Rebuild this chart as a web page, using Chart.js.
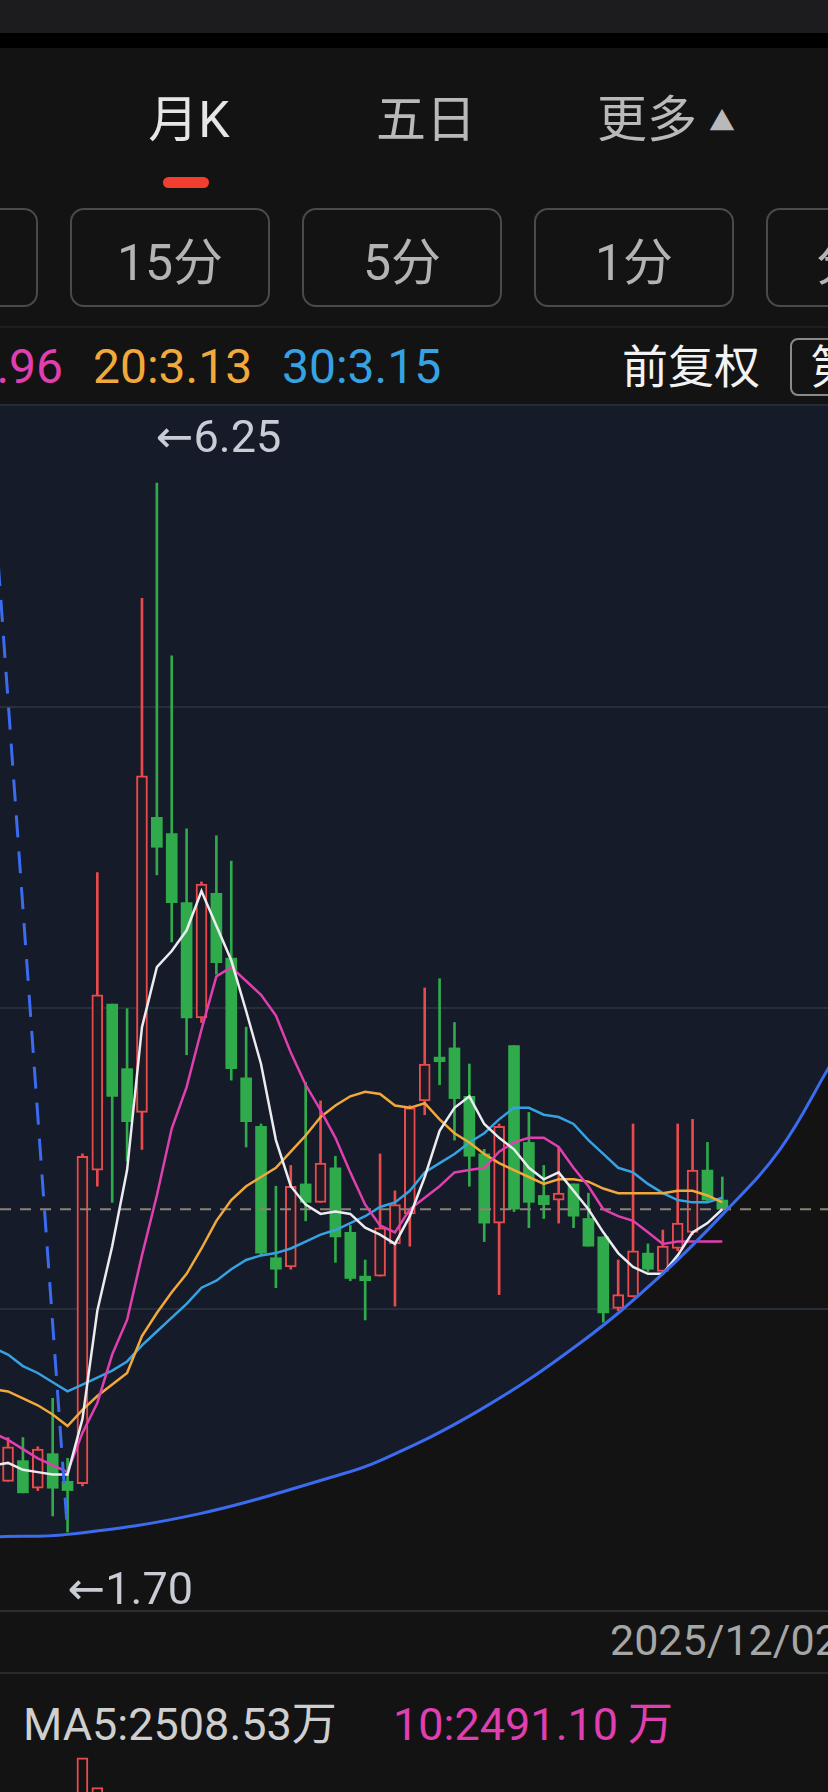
<!DOCTYPE html>
<html lang="zh-CN">
<head>
<meta charset="utf-8">
<title>月K</title>
<script src="https://cdn.jsdelivr.net/npm/chart.js@4.4.1/dist/chart.umd.min.js"></script>
<style>
  html, body { margin: 0; padding: 0; background: #131313; }
  body {
    width: 828px; height: 1792px; overflow: hidden; position: relative;
    font-family: Roboto, "Noto Sans CJK SC", sans-serif;
  }
  .abs { position: absolute; white-space: nowrap; }
  #topbar { left: 0; top: 0; width: 828px; height: 33px; background: #1c1c1e; }
  #topgap { left: 0; top: 33px; width: 828px; height: 15px; background: #000; }
  .tab { top: 92px; font-size: 50px; line-height: 56px; color: #b9b9b9; transform: translateX(-50%); }
  #tabActive { color: #e6e6e6; }
  #marker { left: 163px; top: 177px; width: 46px; height: 11px; border-radius: 6px; background: #f23d31; }
  .btn {
    top: 208px; width: 200px; height: 99px; box-sizing: border-box;
    border: 2px solid #4a4a4a; border-radius: 14px;
    display: flex; align-items: center; justify-content: center;
    font-size: 50px; color: #b3b3b3;
  }
  .rule { left: 0; width: 828px; height: 2px; }
  .legend { top: 340px; font-size: 48px; line-height: 54px; }
  #chartBox { left: 0; top: 406px; width: 828px; height: 1204px; }
  #volBox { left: 0; top: 1752px; width: 828px; height: 238px; }
  #dateRow { left: 610px; top: 1615px; font-size: 43px; line-height: 50px; color: #a6a6a6; }
  .vol { top: 1699px; font-size: 45px; line-height: 52px; }
</style>
</head>
<body>
<div class="abs" id="topbar"></div>
<div class="abs" id="topgap"></div>

<div class="abs tab" id="tabActive" style="left:189px">月K</div>
<div class="abs tab" style="left:426px">五日</div>
<div class="abs tab" style="left:666px">更多<span style="font-size:26px;vertical-align:6px;margin-left:12px">▲</span></div>
<div class="abs" id="marker"></div>

<div class="abs btn" style="left:-162px">30分</div>
<div class="abs btn" style="left:70px">15分</div>
<div class="abs btn" style="left:302px">5分</div>
<div class="abs btn" style="left:534px">1分</div>
<div class="abs btn" style="left:766px">分时</div>

<div class="abs rule" style="top:326px;background:#1e1e1e"></div>
<div class="abs legend" style="right:765px;color:#e03fb0">10:2.96</div>
<div class="abs legend" style="left:93px;color:#f2a93b">20:3.13</div>
<div class="abs legend" style="left:282px;color:#37a2e2">30:3.15</div>
<div class="abs legend" style="left:622px;font-size:46px;color:#f2f2f2">前复权</div>
<div class="abs" style="left:790px;top:338px;width:120px;height:58px;box-sizing:border-box;border:2px solid #8a8a8a;border-radius:8px"></div>
<div class="abs legend" style="left:810px;font-size:46px;color:#f2f2f2">第</div>

<div class="abs rule" style="top:404px;background:#262b35"></div>
<div class="abs" id="chartBox"><canvas id="kline" width="828" height="1204"></canvas></div>
<div class="abs rule" style="top:1610px;background:#2e2e2e"></div>
<div class="abs" id="dateRow">2025/12/02</div>
<div class="abs rule" style="top:1672px;background:#2a2a2a"></div>

<div class="abs vol" style="left:23px;color:#cfcfcf">MA5:2508.53万</div>
<div class="abs vol" style="left:393px;color:#e03fb0">10:2491.10<span style="margin-left:10px">万</span></div>
<div class="abs" id="volBox"><canvas id="volume" width="828" height="238"></canvas></div>

<script>
// monthly candles, first slot (index -1) is off screen
const startIndex = -1
const open = [null, 1.92, 2.01, 1.89, 2.04, 1.92, 1.91, 3.27, 3.99, 3.71, 3.52, 4.80, 4.73, 4.43, 3.93, 4.47, 4.19, 3.67, 3.46, 2.89, 2.85, 3.21, 3.13, 3.28, 3.00, 2.81, 2.81, 2.95, 3.08, 3.57, 3.76, 3.80, 3.59, 3.34, 3.04, 3.81, 3.39, 3.16, 3.14, 3.21, 3.06, 2.98, 2.67, 2.72, 2.91, 2.83, 2.93, 3.00, 3.27, 3.14]
const high = [null, 2.11, 2.11, 2.07, 2.28, 2.02, 3.34, 4.56, 3.99, 3.97, 5.75, 6.25, 5.50, 4.75, 4.52, 4.72, 4.61, 3.89, 3.47, 3.20, 3.29, 3.65, 3.57, 3.33, 3.03, 2.88, 3.34, 3.18, 3.55, 4.06, 4.10, 3.91, 3.73, 3.36, 3.47, 3.81, 3.52, 3.29, 3.37, 3.21, 3.17, 2.98, 2.88, 3.47, 2.95, 3.01, 3.47, 3.49, 3.39, 3.24]
const low = [null, 1.92, 1.87, 1.88, 1.77, 1.70, 1.90, 3.20, 3.13, 3.31, 3.36, 4.55, 4.26, 3.77, 3.91, 4.12, 3.66, 3.37, 2.90, 2.76, 2.84, 3.05, 3.13, 2.87, 2.79, 2.62, 2.81, 2.68, 2.94, 3.51, 3.64, 3.40, 3.20, 2.96, 2.73, 3.09, 3.02, 3.06, 3.04, 3.02, 2.94, 2.61, 2.66, 2.72, 2.83, 2.82, 2.92, 2.99, 3.13, 3.10]
const close = [null, 2.07, 1.87, 2.06, 1.89, 1.88, 3.33, 4.03, 3.59, 3.48, 4.98, 4.67, 4.43, 3.93, 4.51, 4.17, 3.71, 3.48, 2.91, 2.84, 3.20, 3.13, 3.30, 2.98, 2.80, 2.79, 3.02, 3.12, 3.54, 3.73, 3.74, 3.58, 3.33, 3.04, 3.46, 3.10, 3.13, 3.12, 3.17, 3.07, 2.94, 2.65, 2.73, 2.92, 2.84, 2.94, 3.04, 3.27, 3.14, 3.10]

const ma5 = [1.99, 2.00, 1.97, 1.96, 1.95, 1.95, 2.19, 2.66, 2.94, 3.27, 3.89, 4.15, 4.22, 4.31, 4.48, 4.33, 4.18, 3.96, 3.73, 3.40, 3.20, 3.12, 3.08, 3.09, 3.08, 3.02, 2.99, 2.95, 3.07, 3.24, 3.44, 3.54, 3.59, 3.47, 3.41, 3.36, 3.28, 3.23, 3.26, 3.18, 3.10, 3.00, 2.91, 2.85, 2.82, 2.82, 2.90, 3.00, 3.04, 3.10]
const ma10 = [2.13, 2.10, 2.06, 2.02, 1.99, 1.96, 2.13, 2.26, 2.47, 2.62, 2.90, 3.16, 3.45, 3.63, 3.88, 4.11, 4.15, 4.09, 4.03, 3.94, 3.78, 3.64, 3.53, 3.41, 3.26, 3.12, 3.03, 3.00, 3.10, 3.15, 3.20, 3.26, 3.27, 3.28, 3.35, 3.39, 3.41, 3.41, 3.37, 3.28, 3.20, 3.10, 3.07, 3.05, 3.00, 2.95, 2.96, 2.96, 2.96, 2.96]
const ma20 = [2.32, 2.31, 2.28, 2.25, 2.21, 2.16, 2.23, 2.29, 2.34, 2.39, 2.55, 2.65, 2.74, 2.82, 2.93, 3.05, 3.14, 3.20, 3.24, 3.28, 3.35, 3.42, 3.50, 3.55, 3.59, 3.61, 3.60, 3.55, 3.54, 3.56, 3.49, 3.43, 3.39, 3.34, 3.30, 3.27, 3.24, 3.21, 3.23, 3.23, 3.22, 3.19, 3.17, 3.17, 3.17, 3.17, 3.18, 3.18, 3.16, 3.13]
const ma30 = [2.50, 2.47, 2.42, 2.39, 2.35, 2.31, 2.34, 2.37, 2.40, 2.44, 2.51, 2.57, 2.63, 2.69, 2.76, 2.79, 2.84, 2.88, 2.90, 2.91, 2.93, 2.96, 2.99, 3.01, 3.04, 3.07, 3.11, 3.13, 3.18, 3.26, 3.30, 3.34, 3.39, 3.43, 3.49, 3.54, 3.54, 3.51, 3.50, 3.47, 3.40, 3.34, 3.28, 3.26, 3.21, 3.17, 3.14, 3.13, 3.13, 3.15]

// volume (万), only the two tallest bars reach into view
const volume = [null, null, null, null, null, null, 11700, 10200, null, null, null, null, null, null, null, null, null, null, null, null, null, null, null, null, null, null, null, null, null, null, null, null, null, null, null, null, null, null, null, null, null, null, null, null, null, null, null, null, null, null]

// hand drawn bowl curve and the falling dashed trend line (index, price)
const arcX = [-0.6, 4.03, 12.9, 21.84, 25.0, 31.72, 38.44, 43.82, 48.05, 51.88, 55.2]
const arcY = [1.68, 1.69, 1.78, 1.94, 2.01, 2.23, 2.52, 2.81, 3.08, 3.36, 3.72]
const trendX = [-1, 4]
const trendY = [6.21, 1.70]

const xMin = -0.54
const xMax = 55.1
const yMin = 1.362
const yMax = 6.584

const upColor = '#e84b4d'
const downColor = '#2fab4b'
const hollowColor = '#1f1b26'

const idx = open.map((_, k) => k + startIndex)
const candles = []
idx.forEach((x, k) => {
  if (open[k] === null) return
  candles.push({x, o: open[k], h: high[k], l: low[k], c: close[k]})
})
const isUp = ctx => {
  const cd = candles[ctx.dataIndex]
  return cd ? cd.c >= cd.o : false
}
const toPoints = (xs, ys) => ys.map((y, k) => ({x: xs[k], y}))
const lastClose = close[close.length - 1]

const maLine = (label, values, color, order) => ({
  type: 'line',
  label,
  data: toPoints(idx, values),
  borderColor: color,
  borderWidth: 2.5,
  pointRadius: 0,
  fill: false,
  order,
})

const extremeLabels = {
  id: 'extremeLabels',
  afterDatasetsDraw(chart) {
    const {ctx, scales: {x, y}} = chart
    const hi = candles.reduce((a, b) => (b.h > a.h ? b : a))
    const lo = candles.reduce((a, b) => (b.l < a.l ? b : a))
    ctx.save()
    ctx.font = '45px Roboto, "DejaVu Sans", sans-serif'
    ctx.fillStyle = '#c9ccd4'
    ctx.textBaseline = 'middle'
    ctx.textAlign = 'left'
    ctx.fillText('←' + hi.h.toFixed(2), x.getPixelForValue(hi.x) - 1, y.getPixelForValue(hi.h) - 42)
    ctx.fillText('←' + lo.l.toFixed(2), x.getPixelForValue(lo.x), y.getPixelForValue(lo.l) + 61)
    ctx.restore()
  }
}

const config = {
  type: 'bar',
  data: {
    datasets: [
      {
        type: 'line',
        label: 'bowl',
        data: toPoints(arcX, arcY),
        borderColor: '#3b6cf0',
        borderWidth: 3,
        pointRadius: 0,
        tension: 0.4,
        fill: 'end',
        backgroundColor: '#151b28',
        order: 0,
      },
      {
        type: 'line',
        label: 'trend',
        data: toPoints(trendX, trendY),
        borderColor: '#3b6cf0',
        borderWidth: 3,
        borderDash: [22, 14],
        pointRadius: 0,
        fill: false,
        order: 1,
      },
      maLine('MA5', ma5, '#ebebf0', 2),
      maLine('MA10', ma10, '#e03fb0', 3),
      maLine('MA20', ma20, '#f2a93b', 4),
      maLine('MA30', ma30, '#37a2e2', 4.5),
      {
        type: 'line',
        label: 'last',
        data: [{x: xMin, y: lastClose}, {x: xMax, y: lastClose}],
        borderColor: '#8c8276',
        borderWidth: 2,
        borderDash: [11, 9],
        pointRadius: 0,
        fill: false,
        order: 4.8,
      },
      {
        label: 'body',
        data: candles.map(cd => ({x: cd.x, y: [cd.o, cd.c]})),
        grouped: false,
        barThickness: 11,
        minBarLength: 2,
        borderSkipped: false,
        borderWidth: ctx => (isUp(ctx) ? 2 : 0),
        borderColor: upColor,
        backgroundColor: ctx => (isUp(ctx) ? hollowColor : downColor),
        order: 5,
      },
      {
        label: 'wick',
        data: candles.map(cd => ({x: cd.x, y: [cd.l, cd.h]})),
        grouped: false,
        barThickness: 2,
        borderWidth: 0,
        backgroundColor: ctx => (isUp(ctx) ? upColor : downColor),
        order: 6,
      },
    ]
  },
  options: {
    responsive: false,
    devicePixelRatio: 1,
    animation: false,
    layout: {padding: 0},
    plugins: {
      legend: {display: false},
      tooltip: {enabled: false},
      filler: {drawTime: 'beforeDraw'},
    },
    scales: {
      x: {
        type: 'linear',
        min: xMin,
        max: xMax,
        offset: false,
        display: false,
      },
      y: {
        min: yMin,
        max: yMax,
        display: true,
        afterBuildTicks: axis => {
          axis.ticks = [0, 1, 2, 3, 4].map(k => ({value: yMin + k * (yMax - yMin) / 4}))
        },
        ticks: {display: false},
        border: {display: false},
        grid: {
          drawTicks: false,
          lineWidth: 2,
          color: ctx => (ctx.index === 0 || ctx.index === 4 ? 'rgba(0,0,0,0)' : '#272d39'),
        },
      },
    },
  },
  plugins: [extremeLabels],
}

const chartKline = new Chart(document.getElementById('kline').getContext('2d'), config)

const volBars = []
idx.forEach((x, k) => {
  if (volume[k] === null) return
  volBars.push({x, y: volume[k], up: close[k] >= open[k]})
})

const configVolume = {
  type: 'bar',
  data: {
    datasets: [
      {
        label: 'volume',
        data: volBars.map(v => ({x: v.x, y: v.y})),
        barThickness: 11,
        borderSkipped: false,
        borderWidth: ctx => (volBars[ctx.dataIndex].up ? 2 : 0),
        borderColor: upColor,
        backgroundColor: ctx => (volBars[ctx.dataIndex].up ? '#131313' : downColor),
      },
    ]
  },
  options: {
    responsive: false,
    devicePixelRatio: 1,
    animation: false,
    layout: {padding: 0},
    plugins: {legend: {display: false}, tooltip: {enabled: false}},
    scales: {
      x: {type: 'linear', min: xMin, max: xMax, offset: false, display: false},
      y: {min: 0, max: 12000, display: false},
    },
  },
}

const chartVolume = new Chart(document.getElementById('volume').getContext('2d'), configVolume)
</script>
</body>
</html>
